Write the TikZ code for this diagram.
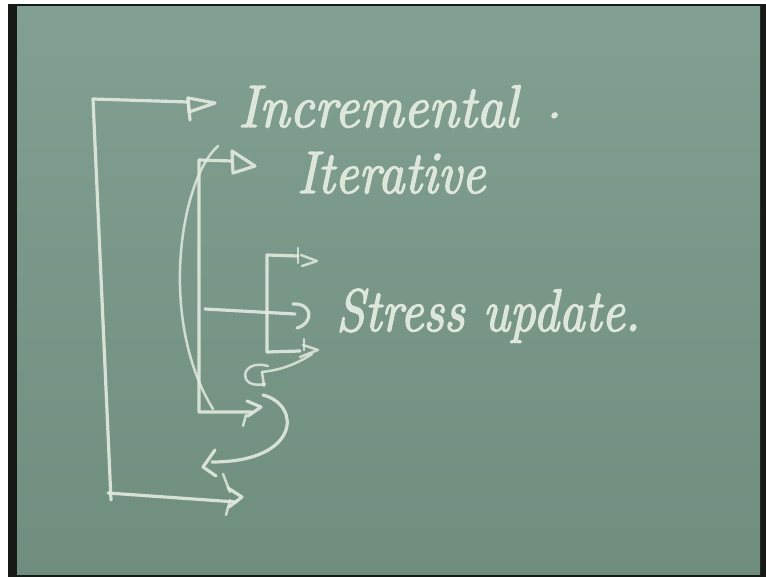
\documentclass[tikz,border=0pt]{standalone}
\usepackage{fontspec}
\newfontfamily\chalkfont{lmroman10-italic}[Extension=.otf, FakeBold=2.2]
\usepackage{xcolor}
\definecolor{boardtop}{RGB}{130,160,145}
\definecolor{boardbot}{RGB}{112,142,126}
\definecolor{chalk}{RGB}{226,234,222}
\definecolor{frame}{RGB}{22,26,22}
\tikzset{
  chalkline/.style={draw=chalk, line width=3.2pt, line cap=round, line join=round, opacity=0.9},
  thinchalk/.style={draw=chalk, line width=2.5pt, line cap=round, line join=round, opacity=0.85},
  chalktext/.style={text=chalk, inner sep=0pt, font=\fontsize{50}{60}\selectfont\chalkfont, anchor=base west, opacity=0.95}
}
\begin{document}
\begin{tikzpicture}[x=1pt,y=-1pt]
\useasboundingbox (0,0) rectangle (766,577);
\fill[white] (0,0) rectangle (766,577);
\fill[frame] (8,4) rectangle (766,577);
\shade[top color=boardtop, bottom color=boardbot] (17,7) rectangle (760,574);

% texts
\node[chalktext, xscale=1.08, yscale=1.2] (inc) at (238,127) {Incremental};
\node[chalktext] (dot) at (546,118) {.};
\node[chalktext, xscale=1.04, yscale=1.2] (ite) at (297,193) {Iterative};
\node[chalktext, xscale=1.01, yscale=1.2] (str) at (336,331) {Stress update.};

% key points
\coordinate (A1) at (93,99);
\coordinate (A2) at (188,102);
\coordinate (A3) at (111,500);
\coordinate (B1) at (199,160);
\coordinate (B2) at (232,161);
\coordinate (B3) at (199,412);
\coordinate (B4) at (252,412);
\coordinate (C1) at (267,255);
\coordinate (C2) at (298,256);
\coordinate (C3) at (267,352);
\coordinate (C4) at (300,351);
\coordinate (M1) at (205,309);
\coordinate (M2) at (295,314);
\coordinate (D1) at (108,493);
\coordinate (D2) at (236,502);

% big bracket -> Incremental
\draw[chalkline] (A2) -- (A1) -- (A3);
\draw[chalkline] (188,98) -- (215,103) -- (189,112) -- cycle;
\draw[chalkline] (188,98) -- (190,120);
\draw[chalkline] (D1) -- (D2);
\draw[chalkline] (228,488) -- (242,497) -- (229,507);
\draw[thinchalk] (230,500) -- (226,515);

% second bracket -> Iterative
\draw[chalkline] (B2) -- (B1) -- (B3) -- (B4);
\draw[chalkline] (232,151) -- (255,166) -- (233,173) -- cycle;
\draw[thinchalk] (218,146) .. controls (180,180) and (158,320) .. (213,409);
\draw[chalkline] (247,401) -- (261,407) -- (248,416);
\draw[thinchalk] (246,415) -- (243,426);

% middle arrow -> Stress update
\draw[chalkline] (M1) -- (M2);
\draw[chalkline] (293,304) .. controls (313,303) and (314,323) .. (297,328);

% small bracket
\draw[chalkline] (C2) -- (C1) -- (C3) -- (C4);
\draw[thinchalk] (298,248) -- (298,263);
\draw[thinchalk] (301,255) -- (317,261) -- (302,266);
\draw[thinchalk] (304,339) -- (304,350);
\draw[thinchalk] (303,345) -- (318,350) -- (300,357);
\draw[thinchalk] (312,354) .. controls (295,365) and (280,370) .. (262,372);
\draw[thinchalk] (268,366) .. controls (240,358) and (236,390) .. (265,384);
\draw[thinchalk] (262,372) -- (264,386);

% return loop
\draw[chalkline] (263,395) .. controls (302,405) and (300,462) .. (212,462);
\draw[chalkline] (215,450) -- (203,467) -- (216,476);
\draw[thinchalk] (223,474) -- (230,492);
\end{tikzpicture}
\end{document}
